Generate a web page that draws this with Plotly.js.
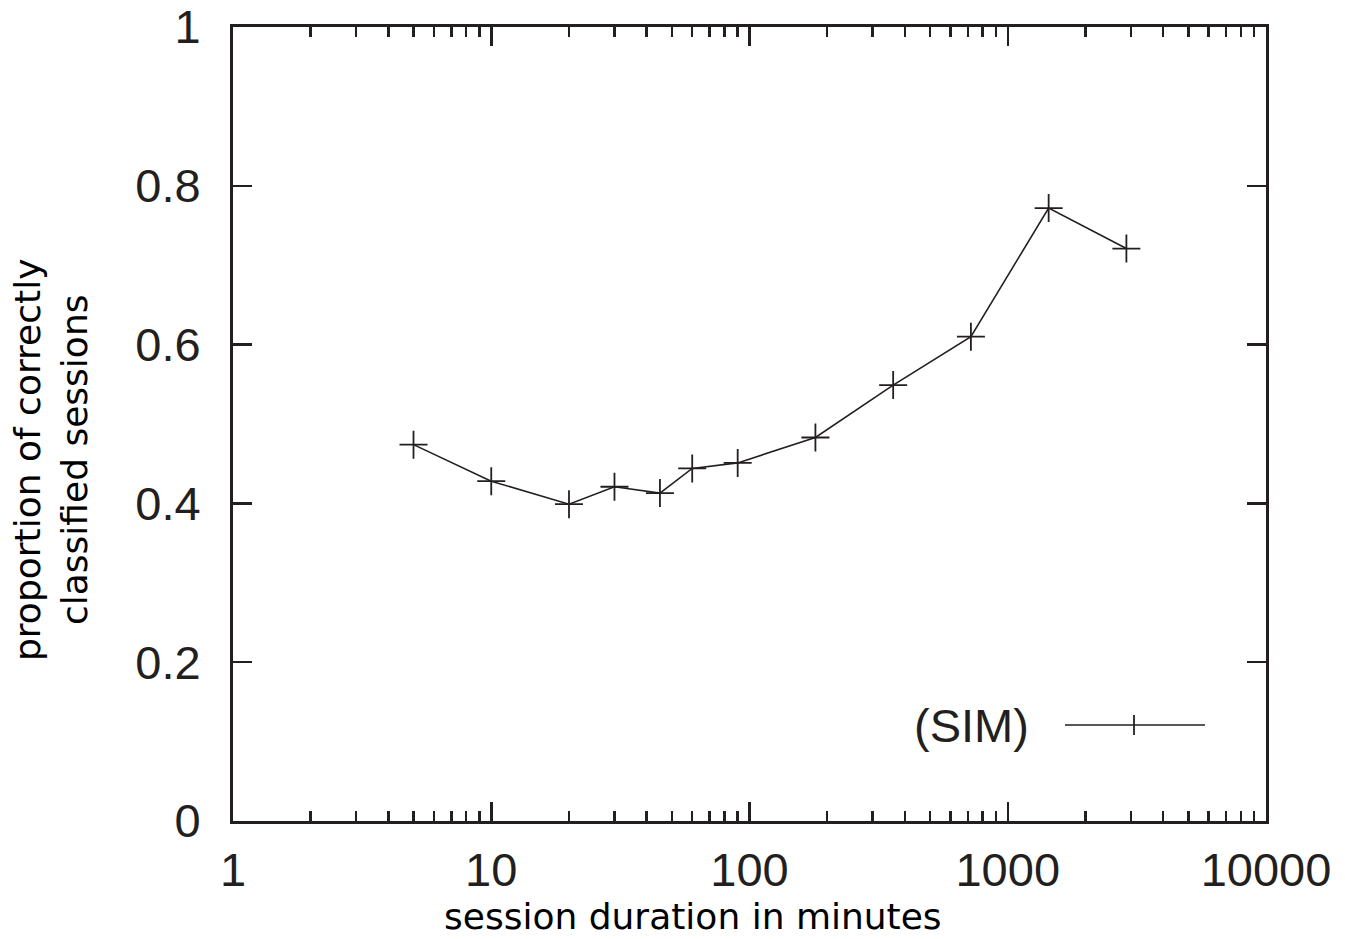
<!DOCTYPE html>
<html>
<head>
<meta charset="utf-8">
<script src="https://cdn.plot.ly/plotly-3.0.1.min.js"></script>
<style>
html,body{margin:0;padding:0;background:#fff;}
#chart{width:1345px;height:939px;}
</style>
</head>
<body>
<div id="chart"></div>
<script>
// session duration (minutes)
const durations = [5, 10, 20, 30, 45, 60, 90, 180, 360, 720, 1440, 2880];
// proportion of correctly classified sessions
const proportions = [0.474, 0.428, 0.399, 0.421, 0.413, 0.444, 0.451, 0.483, 0.549, 0.610, 0.772, 0.721];
const seriesName = "(SIM)";
const xTickVals = [1, 10, 100, 1000, 10000];
const xTickText = ["1", "10", "100", "1000", "10000"];
const yTickVals = [0, 0.2, 0.4, 0.6, 0.8, 1];
const yTickText = ["0", "0.2", "0.4", "0.6", "0.8", "1"];

const ink = "#231f20";
const W = 1345, H = 939, L = 233, R = 79, T = 27, B = 118;
const pw = W - L - R, ph = H - T - B;
const px = v => (v - L) / pw;
const py = v => (H - B - v) / ph;

const trace = {
  x: durations,
  y: proportions,
  type: "scatter",
  mode: "lines+markers",
  name: seriesName,
  line: {color: ink, width: 1.6},
  marker: {symbol: "cross-thin", size: 20, color: ink, line: {color: ink, width: 1.8}},
  showlegend: false
};

const tickFont = {family: "Liberation Sans, Arial, sans-serif", size: 47, color: ink};
const titleFont = {family: "DejaVu Sans", size: 36, color: "#000"};

const layout = {
  width: W, height: H,
  margin: {l: L, r: R, t: T, b: B, pad: 0},
  paper_bgcolor: "#fff",
  plot_bgcolor: "#fff",
  showlegend: false,
  xaxis: {
    type: "log",
    range: [0, 4],
    tickvals: xTickVals,
    ticktext: xTickText,
    ticks: "inside",
    ticklen: 19,
    tickwidth: 2.5,
    tickcolor: ink,
    showline: true,
    linewidth: 3,
    linecolor: ink,
    mirror: "allticks",
    showgrid: false,
    zeroline: false,
    tickfont: tickFont,
    ticklabelstandoff: 6,
    minor: {ticks: "inside", ticklen: 10, tickwidth: 2.5, tickcolor: ink, dtick: "D1", showgrid: false}
  },
  yaxis: {
    range: [0, 1],
    tickvals: yTickVals,
    ticktext: yTickText,
    ticks: "inside",
    ticklen: 19,
    tickwidth: 2.5,
    tickcolor: ink,
    showline: true,
    linewidth: 3,
    linecolor: ink,
    mirror: "allticks",
    showgrid: false,
    zeroline: false,
    tickfont: tickFont,
    ticklabelstandoff: 20
  },
  annotations: [
    {text: "session duration in minutes", xref: "paper", yref: "paper",
     x: px(693), y: py(916), xanchor: "center", yanchor: "middle",
     showarrow: false, font: titleFont},
    {text: "proportion of correctly<br>classified sessions", xref: "paper", yref: "paper",
     x: px(51), y: py(460), xanchor: "center", yanchor: "middle", textangle: -90,
     showarrow: false, font: titleFont},
    {text: seriesName, xref: "paper", yref: "paper",
     x: px(1031), y: py(725), xanchor: "right", yanchor: "middle",
     showarrow: false, font: tickFont}
  ],
  shapes: [
    {type: "line", xref: "paper", yref: "paper", x0: px(1065), x1: px(1205), y0: py(725), y1: py(725),
     line: {color: ink, width: 1.6}},
    {type: "line", xref: "paper", yref: "paper", x0: px(1134), x1: px(1134), y0: py(715), y1: py(735),
     line: {color: ink, width: 1.8}}
  ]
};

Plotly.newPlot("chart", [trace], layout, {displayModeBar: false, staticPlot: true});
</script>
</body>
</html>
